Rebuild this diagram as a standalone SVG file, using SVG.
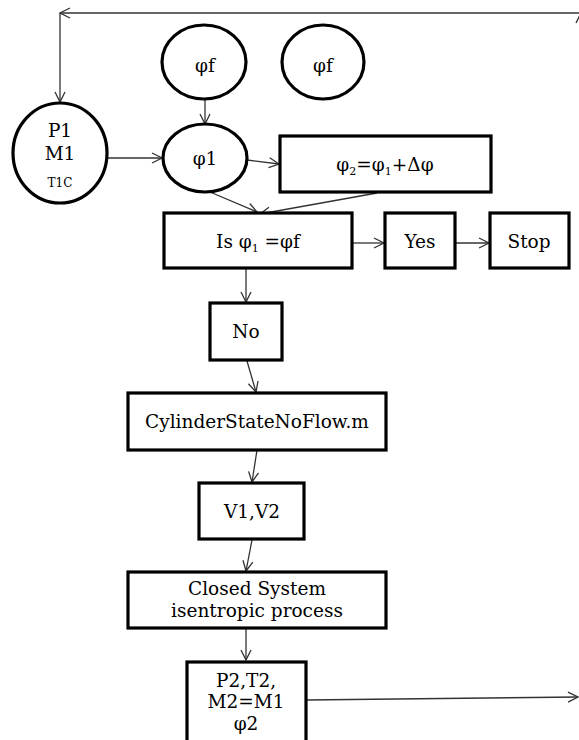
<svg xmlns="http://www.w3.org/2000/svg" width="579" height="740" viewBox="0 0 579 740">
<style>
.n{fill:#fff;stroke:#000;stroke-width:3.2}
.c{fill:none;stroke:#333;stroke-width:1.3;marker-end:url(#ah)}
text{font-family:"DejaVu Serif","Liberation Serif",serif;font-size:18.5px;fill:#000;text-anchor:middle}
.s{font-size:11px}
.sm{font-size:12px}
</style>
<defs>
<marker id="ah" markerUnits="userSpaceOnUse" markerWidth="12" markerHeight="12" refX="10" refY="5" orient="auto" overflow="visible">
<path d="M0,0 L10,5 L0,10" fill="none" stroke="#333" stroke-width="1.3"/>
</marker>
</defs>
<rect width="579" height="740" fill="#fff"/>
<g id="connectors">
<path class="c" d="M306,700 L578,697"/>
<path class="c" d="M581,697 L581,13"/>
<path class="c" d="M581,13 L60,13"/>
<path class="c" d="M60,13 L60,102"/>
<path class="c" d="M205,100 L205,124"/>
<path class="c" d="M107,158 L162,158"/>
<path class="c" d="M247,160 L279,164"/>
<path class="c" d="M210,192 L257,212"/>
<path class="c" d="M377,193 L260,214"/>
<path class="c" d="M352,243 L384,243"/>
<path class="c" d="M455,243 L489,243"/>
<path class="c" d="M246,268 L246,302"/>
<path class="c" d="M247,361 L256,392"/>
<path class="c" d="M257,450 L252,482"/>
<path class="c" d="M252,540 L246,571"/>
<path class="c" d="M246,628 L246,660"/>
</g>
<g id="p1">
<ellipse class="n" cx="60" cy="153" rx="47" ry="50"/>
<text x="60" y="137">P1</text>
<text x="60" y="160">M1</text>
<text class="sm" x="60" y="187">T1C</text>
</g>
<g id="phif1">
<ellipse class="n" cx="204" cy="62" rx="42" ry="37"/>
<text x="205" y="72">φf</text>
</g>
<g id="phif2">
<ellipse class="n" cx="323" cy="62" rx="41" ry="37"/>
<text x="323" y="72">φf</text>
</g>
<g id="phi1">
<ellipse class="n" cx="205" cy="158" rx="42" ry="34"/>
<text x="205" y="165">φ1</text>
</g>
<g id="phi2box">
<rect class="n" x="280" y="136" width="211" height="56"/>
<text x="385" y="171">φ<tspan class="s" dy="4">2</tspan><tspan dy="-4">=φ</tspan><tspan class="s" dy="4">1</tspan><tspan dy="-4">+Δφ</tspan></text>
</g>
<g id="isbox">
<rect class="n" x="164" y="213" width="188" height="55"/>
<text x="258" y="248">Is φ<tspan class="s" dy="4">1</tspan><tspan dy="-4"> =φf</tspan></text>
</g>
<g id="yes">
<rect class="n" x="385" y="213" width="70" height="55"/>
<text x="420" y="248">Yes</text>
</g>
<g id="stop">
<rect class="n" x="490" y="213" width="79" height="55"/>
<text x="529" y="248">Stop</text>
</g>
<g id="no">
<rect class="n" x="210" y="303" width="72" height="57"/>
<text x="246" y="338">No</text>
</g>
<g id="cyl">
<rect class="n" x="128" y="393" width="258" height="57"/>
<text x="257" y="428">CylinderStateNoFlow.m</text>
</g>
<g id="v">
<rect class="n" x="199" y="483" width="105" height="56"/>
<text x="252" y="518">V1,V2</text>
</g>
<g id="closed">
<rect class="n" x="128" y="572" width="258" height="56"/>
<text x="257" y="595">Closed System</text>
<text x="257" y="617">isentropic process</text>
</g>
<g id="p2">
<rect class="n" x="187" y="662" width="119" height="90"/>
<text x="246" y="687">P2,T2,</text>
<text x="246" y="708">M2=M1</text>
<text x="246" y="730">φ2</text>
</g>
</svg>
